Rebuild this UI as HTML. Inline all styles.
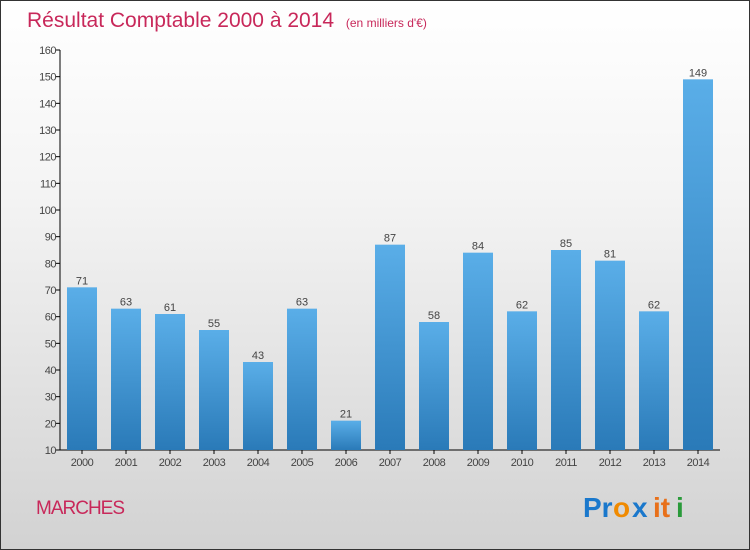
<!DOCTYPE html>
<html><head><meta charset="utf-8"><style>
body{margin:0;width:750px;height:550px;overflow:hidden;font-family:"Liberation Sans",sans-serif}
#wrap{position:absolute;left:0;top:0;width:748px;height:548px;border:1px solid #333;background:linear-gradient(#fff,#f4f4f4 35%,#d2d2d2)}
</style></head><body>
<div id="wrap">
<svg width="750" height="550" style="position:absolute;left:-1px;top:-1px">
<defs><linearGradient id="bg" x1="0" y1="0" x2="0" y2="1"><stop offset="0" stop-color="#5aaee8"/><stop offset="1" stop-color="#2a7ab8"/></linearGradient></defs>
<text x="27" y="27" font-size="21" fill="#c8285a">Résultat Comptable 2000 à 2014 <tspan font-size="12" dx="6">(en milliers d'€)</tspan></text>
<g id="axes"></g><g id="bars"></g>
<text x="36" y="514" font-size="19" fill="#c8285a" letter-spacing="-1">MARCHES</text>
<g font-size="28" font-family="'Liberation Sans',sans-serif" font-weight="bold">
<text x="583" y="517" fill="#1a78cc">Pr</text><text x="613" y="517" fill="#f08a00">o</text><text x="632" y="517" fill="#1a78cc">x</text><text x="653" y="517" fill="#e8701a">it</text><text x="676" y="517" fill="#2a9a3a">i</text>
</g>
</svg></div>
<script>
const years=["2000","2001","2002","2003","2004","2005","2006","2007","2008","2009","2010","2011","2012","2013","2014"];
const values=[71,63,61,55,43,63,21,87,58,84,62,85,81,62,149];
const ticks=[10,20,30,40,50,60,70,80,90,100,110,120,130,140,150,160];
const NS="http://www.w3.org/2000/svg";
const y=v=>450-(v-10)*400/150;
const x=i=>82+i*44;
function mk(t,a,p){const e=document.createElementNS(NS,t);for(const k in a)e.setAttribute(k,a[k]);p.appendChild(e);return e;}
const ax=document.getElementById('axes'),bg=document.getElementById('bars');
const yl=mk('line',{x1:60,y1:50,x2:60,y2:450,stroke:'#000'},ax);


const xl=mk('line',{x1:60,y1:450,x2:720,y2:450,stroke:'#000'},ax);


ticks.forEach(t=>{mk('line',{x1:56,y1:y(t),x2:60,y2:y(t),stroke:'#000'},ax);
const tx=mk('text',{x:56,y:y(t)+4,'font-size':11,'text-anchor':'end',fill:'#444','letter-spacing':'-0.5'},ax);tx.textContent=t;

});
years.forEach((yr,i)=>{const v=values[i];
const r=mk('rect',{x:x(i)-15,y:y(v),width:30,height:450-y(v),fill:'url(#bg)'},bg);


const l=mk('text',{x:x(i),y:y(v)-3,'font-size':11,'text-anchor':'middle',fill:'#444'},bg);l.textContent=v;


mk('line',{x1:x(i),y1:450,x2:x(i),y2:454,stroke:'#000'},ax);
const xt=mk('text',{x:x(i),y:466,'font-size':11,'text-anchor':'middle',fill:'#444','letter-spacing':'-0.5'},ax);xt.textContent=yr;

});
</script></body></html>
